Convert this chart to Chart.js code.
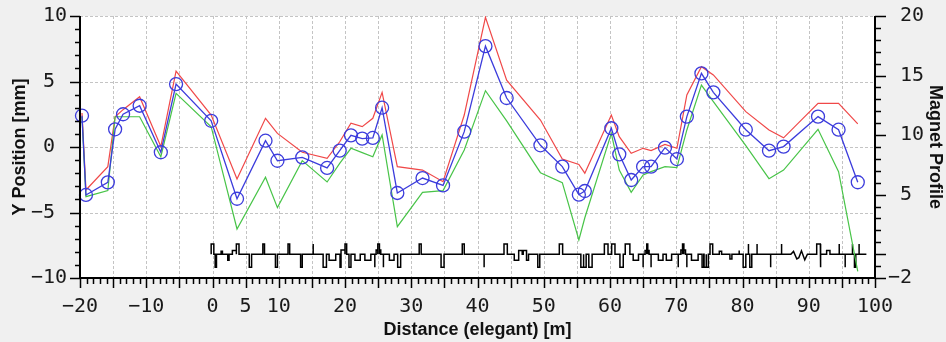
<!DOCTYPE html>
<html>
<head>
<meta charset="utf-8">
<script src="https://cdn.jsdelivr.net/npm/chart.js@4.4.1/dist/chart.umd.min.js"></script>
<style>
  html, body { margin: 0; padding: 0; background: #f0f0f0; }
  canvas { display: block; }
</style>
</head>
<body>
<canvas id="orbit_chart_area" width="946" height="342"></canvas>
<script>
// BPM positions along the line [m]
const bpm_s = [-19.7, -19.1, -15.8, -14.7, -13.5, -11.0, -7.8, -5.5, -0.2, 3.7,
  8.0, 9.8, 13.55, 17.3, 19.2, 20.9, 22.6, 24.2, 25.6, 27.9,
  31.7, 34.8, 38.0, 41.2, 44.4, 49.5, 52.8, 55.3, 56.2, 60.2,
  61.4, 63.2, 65.0, 66.2, 68.3, 70.1, 71.6, 73.8, 75.6, 80.5,
  84.0, 86.2, 91.4, 94.5, 97.4];

// measured vertical orbit [mm]
const orbit_y = [2.39, -3.66, -2.7, 1.35, 2.5, 3.15, -0.4, 4.8, 2.0, -3.95,
  0.48, -1.05, -0.79, -1.6, -0.28, 0.89, 0.64, 0.69, 3.0, -3.51,
  -2.37, -2.93, 1.17, 7.7, 3.74, 0.13, -1.5, -3.64, -3.36, 1.43,
  -0.56, -2.52, -1.5, -1.5, -0.05, -0.92, 2.32, 5.62, 4.17, 1.32,
  -0.28, 0.03, 2.32, 1.32, -2.69];

// upper envelope [mm]
const orbit_y_max = [2.6, -3.28, -1.5, 2.31, 2.85, 3.84, 0.03, 5.8, 2.44, -2.44,
  2.19, 1.04, -0.4, -0.87, 0.4, 1.81, 1.55, 2.19, 4.17, -1.5,
  -1.76, -2.65, 2.44, 9.9, 5.1, 2.06, -0.92, -1.33, -2.0, 2.44,
  0.79, -0.48, -0.1, -0.28, 0.2, -0.1, 3.97, 6.13, 5.5, 2.7,
  1.3, 0.7, 3.33, 3.33, 1.76];

// lower envelope [mm]
const orbit_y_min = [2.3, -3.79, -3.33, 2.31, 2.31, 2.31, -0.74, 4.1, 1.55, -6.26,
  -2.31, -4.63, -1.04, -2.67, -1.25, -0.1, -0.43, -0.74, 0.92, -6.08,
  -3.46, -3.33, -0.23, 4.3, 2.0, -1.96, -2.72, -7.1, -5.4, 1.04,
  -1.76, -3.46, -2.14, -1.88, -1.5, -1.58, 1.3, 4.73, 3.47, 0.1,
  -2.42, -1.76, 1.35, -1.88, -9.5];

// magnet profile: element start / end [m] and height
const magnet_start = [-0.2, 0.4, 1.3, 2.3, 3.0, 3.6, 5.55, 7.6, 9.5, 11.4,
  13.3, 15.2, 16.7, 17.6, 19.25, 19.4, 20.0, 20.6, 21.5, 23.0,
  24.5, 24.7, 24.95, 25.2, 25.8, 26.7, 27.95, 31.2, 34.5, 37.7,
  41.0, 44.0, 45.55, 46.25, 46.9, 47.4, 49.1, 52.35, 55.6, 56.05,
  56.8, 59.15, 60.25, 61.5, 62.3, 63.5, 65.0, 65.3, 65.55, 65.7,
  66.2, 67.3, 68.5, 70.3, 70.7, 70.95, 71.15, 71.6, 72.3, 73.9,
  74.2, 74.55, 75.1, 76.5, 78.1, 79.5, 80.1, 80.9, 81.1, 82.2,
  84.25, 85.9, 91.2, 91.8, 92.7, 94.6, 95.5, 96.6, 96.9, 97.6];
const magnet_end = [0.2, 0.6, 1.5, 2.5, 3.6, 4.0, 5.9, 7.85, 9.8, 11.65,
  13.55, 15.2, 17.2, 18.6, 19.4, 20.0, 20.25, 20.9, 22.3, 23.9,
  24.5, 24.95, 25.2, 25.4, 25.8, 27.4, 28.4, 31.5, 34.95, 38.0,
  41.0, 44.5, 46.15, 46.75, 47.4, 47.7, 49.4, 52.85, 55.95, 56.4,
  57.3, 59.7, 60.75, 62.0, 63.0, 64.3, 65.0, 65.55, 65.7, 65.9,
  66.2, 68.0, 69.3, 70.3, 70.95, 71.15, 71.4, 71.6, 73.3, 74.15,
  74.5, 74.85, 75.5, 76.85, 78.4, 79.5, 80.5, 80.9, 81.4, 82.2,
  84.25, 85.9, 91.75, 91.8, 93.2, 94.6, 95.5, 96.6, 97.1, 97.6];
const magnet_height = [0.85, -1.1, 0.25, -0.5, 0.3, 0.85, -1.1, 0.85, -1.1, 0.85,
  -1.1, 0.85, -1.1, -0.5, -1.1, 0.35, 0.85, -1.1, -0.5, -0.5,
  -1.1, 0.35, 0.85, 0.35, -1.1, -0.5, -1.1, 0.85, -1.1, 0.85,
  -1.1, 0.85, -0.5, 0.3, 0.3, -0.5, -1.1, 0.85, -1.1, -1.1,
  -1.1, 0.85, 0.85, -1.1, 0.85, -0.5, -1.1, 0.3, 0.85, 0.3,
  -1.1, -0.5, -0.5, -1.1, 0.35, 0.85, 0.35, -1.1, -0.5, -1.1,
  -1.1, -1.1, 0.85, 0.25, -0.4, 0.3, -1.1, 0.85, -1.1, 0.85,
  -1.1, 0.85, 0.85, -1.1, 0.3, 0.85, -1.1, 0.85, -1.1, 0.85];

// wiggler outline
const wiggler_s = [87.3, 87.7, 88.2, 88.5, 88.9, 89.4, 89.8];
const wiggler_h = [0, 0.23, -0.4, -0.3, 0.28, -0.48, 0];
const beamline_end = 98.7;

const x_tick_labels = [-20, -10, 0, 5, 10, 20, 30, 40, 50, 60, 70, 80, 90, 100];
const y_tick_labels = [-10, -5, 0, 5, 10];
const y2_tick_labels = [-2, 5, 10, 15, 20];

const BLUE = "#3c3cdc";
const RED = "#f04848";
const GREEN = "#48c448";
const TICK_FONT = { family: '"DejaVu Sans Mono", monospace', size: 20 };
const TITLE_FONT = { family: '"Liberation Sans", Arial, sans-serif', size: 18, weight: "bold" };

const minus = (v) => String(v).replace("-", "\u2212");

// numbers are right aligned with one blank after single digits
function y_label(v) {
  let s = minus(v) + (Math.abs(v) < 10 ? " " : "");
  return s.length < 3 ? " " + s : s;
}

function magnet_profile_points() {
  const parts = magnet_start.map((s0, i) => [
    [s0, 0], [s0, magnet_height[i]], [magnet_end[i], magnet_height[i]], [magnet_end[i], 0],
  ]);
  parts.push(wiggler_s.map((s, i) => [s, wiggler_h[i]]));
  parts.sort((a, b) => a[0][0] - b[0][0]);
  const pts = [];
  parts.forEach((p) => p.forEach(([x, y]) => pts.push({ x, y })));
  pts.push({ x: beamline_end, y: 0 });
  return pts;
}

const series = (ys) => bpm_s.map((s, i) => ({ x: s, y: ys[i] }));

// white plot area, dashed grid, axis lines and tick marks
const frame = {
  id: "frame",
  beforeDatasetsDraw(chart) {
    const { ctx, chartArea: a, scales } = chart;
    ctx.save();
    ctx.fillStyle = "#ffffff";
    ctx.fillRect(a.left, a.top, a.right - a.left, a.bottom - a.top);
    ctx.strokeStyle = "#c4c4c4";
    ctx.lineWidth = 1;
    ctx.setLineDash([3, 2]);
    ctx.beginPath();
    for (let v = -20; v <= 100; v += 5) {
      const x = Math.round(scales.x.getPixelForValue(v)) + 0.5;
      ctx.moveTo(x, a.top);
      ctx.lineTo(x, a.bottom);
    }
    for (let v = -10; v <= 10; v += 5) {
      const y = Math.round(scales.y.getPixelForValue(v)) + 0.5;
      ctx.moveTo(a.left, y);
      ctx.lineTo(a.right, y);
    }
    ctx.stroke();
    ctx.restore();
  },
  afterDraw(chart) {
    const { ctx, chartArea: a, scales } = chart;
    ctx.save();
    ctx.strokeStyle = "#000";
    ctx.lineWidth = 1.5;
    ctx.beginPath();
    for (let v = -20; v <= 100; v++) {
      const x = Math.round(scales.x.getPixelForValue(v)) + 0.5;
      ctx.moveTo(x, a.bottom);
      ctx.lineTo(x, a.bottom + (v % 5 === 0 ? 10 : 6));
    }
    for (let v = -10; v <= 10; v++) {
      const y = Math.round(scales.y.getPixelForValue(v)) + 0.5;
      ctx.moveTo(a.left, y);
      ctx.lineTo(a.left - (v % 5 === 0 ? 10 : 5), y);
    }
    for (let v = -2; v <= 20; v++) {
      const y = Math.round(scales.y2.getPixelForValue(v)) + 0.5;
      ctx.moveTo(a.right, y);
      ctx.lineTo(a.right + (v % 5 === 0 || v === -2 ? 11 : 6), y);
    }
    ctx.stroke();
    ctx.lineWidth = 2;
    ctx.beginPath();
    ctx.moveTo(a.left, a.top);
    ctx.lineTo(a.left, a.bottom);
    ctx.lineTo(a.right, a.bottom);
    ctx.lineTo(a.right, a.top);
    ctx.stroke();
    ctx.restore();
  },
};

// tick marks come from the frame plugin; tickLength only spaces the labels
const axis_common = {
  grid: { display: false, drawTicks: true, tickLength: 13 },
  border: { display: false },
};

const orbit_chart_area = document.getElementById("orbit_chart_area").getContext("2d");
const orbit_chart = new Chart(orbit_chart_area, {
  type: "scatter",
  data: {
    datasets: [
      {
        label: "y",
        data: series(orbit_y),
        showLine: true,
        borderColor: BLUE,
        borderWidth: 1.3,
        pointRadius: 6.5,
        pointHoverRadius: 6.5,
        pointBorderColor: BLUE,
        pointBorderWidth: 1.3,
        pointBackgroundColor: "rgba(0,0,0,0)",
        clip: false,
        order: 0,
      },
      {
        label: "y max",
        data: series(orbit_y_max),
        showLine: true,
        borderColor: RED,
        borderWidth: 1.2,
        pointRadius: 0,
        order: 2,
      },
      {
        label: "y min",
        data: series(orbit_y_min),
        showLine: true,
        borderColor: GREEN,
        borderWidth: 1.2,
        pointRadius: 0,
        order: 1,
      },
      {
        label: "magnets",
        data: magnet_profile_points(),
        yAxisID: "y2",
        showLine: true,
        borderColor: "#000",
        borderWidth: 1.5,
        pointRadius: 0,
        order: 3,
      },
    ],
  },
  options: {
    responsive: false,
    animation: false,
    events: [],
    layout: { padding: { top: 16, left: 0, right: 0, bottom: 0 } },
    plugins: { legend: { display: false }, tooltip: { enabled: false } },
    scales: {
      x: {
        ...axis_common,
        type: "linear",
        min: -20,
        max: 100,
        ticks: {
          stepSize: 1,
          autoSkip: false,
          maxRotation: 0,
          minRotation: 0,
          padding: 4,
          font: TICK_FONT,
          color: "#1a1a1a",
          callback: (v) => (x_tick_labels.includes(v) ? minus(v) : ""),
        },
        title: {
          display: true,
          text: "Distance (elegant) [m]",
          font: TITLE_FONT,
          color: "#111",
          padding: { top: 0, bottom: 1 },
        },
        afterFit: (scale) => { scale.height = 64; },
      },
      y: {
        ...axis_common,
        position: "left",
        min: -10,
        max: 10,
        ticks: {
          stepSize: 1,
          autoSkip: false,
          padding: 0,
          font: TICK_FONT,
          color: "#1a1a1a",
          callback: (v) => (y_tick_labels.includes(v) ? y_label(v) : ""),
        },
        title: {
          display: true,
          text: "Y Position [mm]",
          font: TITLE_FONT,
          color: "#111",
          padding: { top: 9, bottom: 0 },
        },
        afterFit: (scale) => { scale.width = 80; },
      },
      y2: {
        ...axis_common,
        position: "right",
        min: -2,
        max: 20,
        ticks: {
          stepSize: 1,
          autoSkip: false,
          padding: 0,
          font: TICK_FONT,
          color: "#1a1a1a",
          callback: (v) => (y2_tick_labels.includes(v) ? y_label(v) : ""),
        },
        title: {
          display: true,
          text: "Magnet Profile",
          font: TITLE_FONT,
          color: "#111",
          padding: { top: 0, bottom: 0 },
        },
        afterFit: (scale) => { scale.width = 71; },
      },
    },
  },
  plugins: [frame],
});
</script>
</body>
</html>
